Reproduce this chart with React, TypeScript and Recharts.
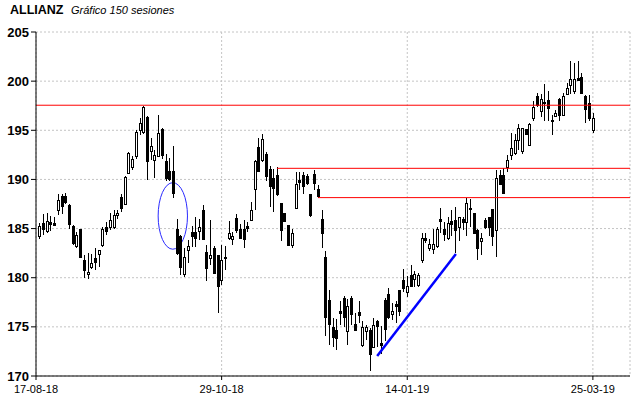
import React from "react"
import {
  ComposedChart,
  Bar,
  XAxis,
  YAxis,
  CartesianGrid,
  ReferenceLine,
  ReferenceArea,
} from "recharts"

// 150 sessions (index 0 = oldest)
const OPEN = [
  184.2, 185.6, 184.8, 185.7, 185.6, 186.9, 188.3, 188.3, 187.4, 185.3,
  183.2, 185.0, 181.8, 180.4, 181.1, 182.0, 182.4, 183.3, 185.2, 185.2,
  185.2, 186.4, 188.2, 187.5, 190.7, 191.3, 192.4, 195.0, 194.8, 196.4,
  192.9, 192.0, 192.4, 195.1, 191.9, 190.9, 190.9, 185.0, 184.2, 180.4,
  182.8, 184.7, 184.7, 184.8, 186.9, 182.6, 182.0, 183.0, 182.3, 179.8,
  182.1, 184.0, 183.9, 186.1, 185.0, 185.0, 185.3, 185.9, 189.0, 193.3,
  192.0, 192.6, 191.1, 190.1, 190.5, 187.6, 186.6, 185.4, 183.3, 187.1,
  189.9, 190.4, 190.3, 188.5, 190.6, 189.0, 186.0, 182.1, 177.7, 175.0,
  174.7, 176.6, 177.9, 174.6, 177.9, 175.3, 176.5, 173.2, 174.6, 174.7,
  173.0, 175.6, 173.4, 177.7, 178.3, 176.3, 177.3, 178.7, 179.8, 178.5,
  180.3, 179.9, 179.3, 181.8, 184.0, 183.0, 182.9, 183.2, 186.0, 185.0,
  184.0, 185.8, 185.9, 185.2, 186.0, 185.7, 187.1, 186.6, 184.9, 183.7,
  185.9, 186.2, 187.0, 184.9, 190.5, 190.5, 191.3, 192.5, 192.7, 194.0,
  192.9, 195.1, 193.5, 196.3, 198.5, 197.0, 197.9, 198.1, 196.0, 196.5,
  198.2, 196.6, 198.7, 199.6, 199.0, 200.3, 200.4, 198.5, 197.8, 195.0,
]
const HIGH = [
  185.6, 186.5, 186.6, 186.3, 186.2, 188.5, 188.5, 188.6, 187.5, 185.4,
  184.7, 185.0, 182.3, 182.5, 182.4, 183.0, 182.8, 185.2, 185.7, 186.6,
  186.9, 186.9, 188.5, 190.3, 192.8, 192.4, 195.0, 196.2, 197.5, 196.5,
  194.2, 193.0, 196.6, 195.2, 192.6, 192.2, 193.4, 186.0, 184.3, 183.0,
  183.8, 185.3, 186.2, 186.0, 187.4, 183.3, 185.9, 183.2, 182.3, 183.3,
  183.2, 185.8, 184.7, 186.5, 185.5, 185.9, 185.7, 187.7, 192.0, 194.2,
  194.6, 192.8, 191.4, 191.1, 191.3, 187.6, 186.6, 185.4, 185.0, 190.8,
  190.8, 190.8, 190.6, 188.5, 191.0, 189.4, 186.9, 182.7, 178.8, 175.9,
  175.8, 177.6, 178.1, 177.8, 178.1, 176.4, 177.6, 175.6, 175.2, 174.9,
  175.9, 175.7, 175.1, 177.9, 179.0, 177.4, 177.6, 178.7, 180.9, 180.2,
  181.3, 180.7, 180.5, 184.5, 184.6, 183.9, 185.0, 185.2, 187.1, 185.7,
  186.2, 186.9, 187.2, 186.2, 186.2, 188.1, 188.0, 186.6, 185.0, 184.5,
  186.1, 186.2, 187.0, 191.0, 191.0, 191.2, 192.5, 194.7, 194.6, 195.6,
  195.2, 195.1, 195.7, 198.0, 198.8, 198.7, 199.7, 199.0, 196.6, 197.1,
  198.3, 198.8, 199.8, 202.1, 201.8, 202.1, 200.8, 198.6, 198.6, 196.8,
]
const LOW = [
  183.9, 184.3, 184.6, 184.8, 185.3, 186.4, 186.5, 187.5, 185.0, 183.3,
  183.0, 182.0, 180.0, 179.9, 180.9, 180.8, 181.1, 183.1, 184.3, 184.9,
  185.0, 186.0, 186.7, 187.4, 190.6, 191.0, 192.1, 194.5, 194.6, 189.9,
  192.0, 190.1, 192.3, 192.1, 189.8, 189.8, 188.1, 182.3, 180.3, 180.1,
  181.5, 183.1, 183.1, 183.8, 183.8, 179.7, 181.3, 180.4, 176.4, 179.3,
  180.8, 183.8, 183.3, 184.5, 183.9, 183.0, 184.7, 185.9, 186.9, 190.8,
  191.8, 189.8, 187.2, 186.7, 188.3, 183.7, 185.7, 183.2, 183.0, 187.0,
  188.9, 188.5, 189.4, 186.2, 188.9, 188.1, 183.0, 174.1, 173.2, 173.0,
  172.6, 175.2, 175.0, 173.2, 175.2, 174.6, 175.4, 173.0, 173.7, 170.5,
  172.9, 172.9, 172.2, 173.6, 175.8, 175.7, 175.4, 176.1, 178.5, 178.0,
  179.1, 179.1, 179.1, 181.5, 183.5, 182.7, 182.4, 183.0, 184.6, 183.7,
  183.8, 184.2, 182.5, 183.7, 184.9, 184.2, 185.2, 184.5, 181.8, 182.3,
  185.0, 184.2, 183.2, 182.1, 189.5, 188.6, 190.8, 192.0, 192.5, 193.0,
  192.6, 194.5, 193.4, 195.9, 197.4, 196.4, 195.9, 195.9, 194.5, 196.4,
  195.9, 196.5, 198.6, 198.7, 198.7, 200.0, 198.8, 195.7, 195.9, 194.7,
]
const CLOSE = [
  185.3, 185.0, 185.8, 185.5, 185.4, 187.9, 187.3, 187.7, 185.5, 183.5,
  184.3, 182.1, 180.8, 180.6, 181.5, 181.6, 182.8, 185.0, 184.8, 185.9,
  186.4, 186.6, 187.1, 190.2, 192.7, 192.1, 194.8, 195.7, 197.4, 191.9,
  193.4, 192.5, 194.7, 192.5, 190.1, 190.0, 188.6, 182.5, 181.1, 182.1,
  183.2, 184.2, 184.0, 185.2, 183.9, 181.0, 182.3, 180.5, 179.2, 181.8,
  182.0, 184.5, 184.2, 184.9, 184.0, 183.9, 185.1, 186.9, 191.9, 190.9,
  194.1, 190.3, 189.3, 189.1, 188.5, 184.9, 185.8, 183.3, 184.5, 189.5,
  189.7, 189.3, 189.6, 186.4, 189.6, 188.3, 184.6, 176.0, 175.3, 174.0,
  173.9, 176.4, 176.0, 177.1, 176.3, 174.7, 176.2, 175.0, 175.0, 172.2,
  175.2, 175.1, 173.2, 174.8, 176.0, 176.6, 177.1, 176.6, 179.0, 179.2,
  179.2, 180.4, 180.3, 184.0, 183.8, 183.4, 183.4, 185.0, 185.8, 184.4,
  185.6, 185.5, 184.9, 186.2, 185.7, 187.6, 187.0, 184.5, 183.0, 184.0,
  185.2, 185.2, 184.2, 190.1, 189.5, 188.6, 192.0, 193.2, 194.0, 195.2,
  195.2, 194.6, 195.6, 197.4, 197.6, 198.2, 197.8, 197.3, 195.9, 196.8,
  196.6, 198.5, 199.3, 200.2, 200.2, 200.1, 198.8, 197.2, 196.3, 196.2,
]

const X_TICKS = [-1, 49, 99, 149]
const X_LABELS = ["17-08-18", "29-10-18", "14-01-19", "25-03-19"]
const Y_TICKS = [170, 175, 180, 185, 190, 195, 200, 205]

// drawn studies
const RESISTANCE = 197.55
const ZONE_TOP = 191.13
const ZONE_TOP_FROM = 63.9
const ZONE_BOTTOM = 188.15
const ZONE_BOTTOM_FROM = 75
const TREND_START = { x: 90.9, y: 172.04 }
const TREND_END = { x: 112.1, y: 182.41 }
const GAP_X = [31.9, 39.8]
const GAP_Y = [182.9, 189.67]

const X_MIN = -1
const X_MAX = 159

const MINOR_TICKS: number[] = []
for (let v = 170; v <= 205; v++) MINOR_TICKS.push(v)

const rows = OPEN.map((o, i) => ({
  idx: i,
  open: o,
  high: HIGH[i],
  low: LOW[i],
  close: CLOSE[i],
  range: [LOW[i], HIGH[i]],
}))

function Candle(props: any) {
  let { x, y, width, height } = props
  const { payload } = props
  if (x == null || y == null || height == null || !payload) return null
  if (height < 0) {
    y += height
    height = -height
  }
  const { open, close, high, low } = payload
  const ppu = height / (high - low || 1)
  const cx = Math.round(x + width / 2)
  const top = Math.round(y + (high - Math.max(open, close)) * ppu)
  const bot = Math.max(Math.round(y + (high - Math.min(open, close)) * ppu), top + 1)
  const up = close >= open
  return (
    <g>
      <line
        x1={cx + 0.5}
        x2={cx + 0.5}
        y1={Math.round(y)}
        y2={Math.round(y + height)}
        stroke="#000"
        strokeWidth={1}
      />
      <rect
        x={cx - 0.5}
        y={top + 0.5}
        width={2}
        height={bot - top}
        fill={up ? "#fff" : "#000"}
        stroke="#000"
        strokeWidth={1}
      />
    </g>
  )
}

function GapEllipse(props: any) {
  const { x, y, width, height } = props
  if (x == null) return null
  return (
    <ellipse
      cx={x + width / 2}
      cy={y + height / 2}
      rx={width / 2}
      ry={height / 2}
      fill="none"
      stroke="#2a2aff"
      strokeWidth={1}
    />
  )
}

export default function App() {
  return (
    <div
      style={{
        position: "absolute",
        left: 0,
        top: 0,
        width: 640,
        height: 398,
        background: "#fff",
        fontFamily: "'Liberation Sans', Arial, sans-serif",
      }}
    >
      <div style={{ position: "absolute", left: 10, top: 3, fontSize: 12.5, fontWeight: "bold" }}>
        ALLIANZ
      </div>
      <div style={{ position: "absolute", left: 71, top: 4, fontSize: 11, fontStyle: "italic" }}>
        Gráfico 150 sesiones
      </div>
      <ComposedChart
        width={640}
        height={398}
        data={rows}
        margin={{ top: 32, right: 10, left: 0, bottom: 0 }}
      >
        <CartesianGrid stroke="#c4c4c4" strokeDasharray="2 2" />
        <XAxis
          dataKey="idx"
          type="number"
          domain={[X_MIN, X_MAX]}
          ticks={X_TICKS}
          allowDataOverflow
          tickFormatter={(v) => X_LABELS[X_TICKS.indexOf(v)] ?? ""}
          height={22}
          tickSize={4}
          tickMargin={5}
          stroke="#000"
          tick={{ fill: "#000", fontSize: 11, fontFamily: "'Liberation Sans', Arial, sans-serif" }}
        />
        <YAxis
          domain={[170, 205]}
          ticks={Y_TICKS}
          allowDataOverflow
          width={36}
          tickSize={5}
          tickMargin={2}
          stroke="#000"
          tick={{
            fill: "#000",
            fontSize: 13,
            fontWeight: "bold",
            fontFamily: "'Liberation Sans', Arial, sans-serif",
          }}
        />
        <YAxis
          yAxisId="minor"
          domain={[170, 205]}
          ticks={MINOR_TICKS}
          allowDataOverflow
          width={0}
          mirror
          axisLine={false}
          tickSize={3}
          stroke="#000"
          tickFormatter={() => ""}
        />
        <Bar dataKey="range" barSize={3} shape={Candle} isAnimationActive={false} />
        <ReferenceArea
          x1={GAP_X[0]}
          x2={GAP_X[1]}
          y1={GAP_Y[0]}
          y2={GAP_Y[1]}
          shape={GapEllipse}
        />
        <ReferenceLine y={RESISTANCE} stroke="#ff0000" strokeWidth={1} />
        <ReferenceLine
          segment={[
            { x: ZONE_TOP_FROM, y: ZONE_TOP },
            { x: X_MAX, y: ZONE_TOP },
          ]}
          stroke="#ff0000"
          strokeWidth={1}
        />
        <ReferenceLine
          segment={[
            { x: ZONE_BOTTOM_FROM, y: ZONE_BOTTOM },
            { x: X_MAX, y: ZONE_BOTTOM },
          ]}
          stroke="#ff0000"
          strokeWidth={1}
        />
        <ReferenceLine
          segment={[TREND_START, TREND_END]}
          stroke="#0000ff"
          strokeWidth={2.5}
        />
      </ComposedChart>
    </div>
  )
}
